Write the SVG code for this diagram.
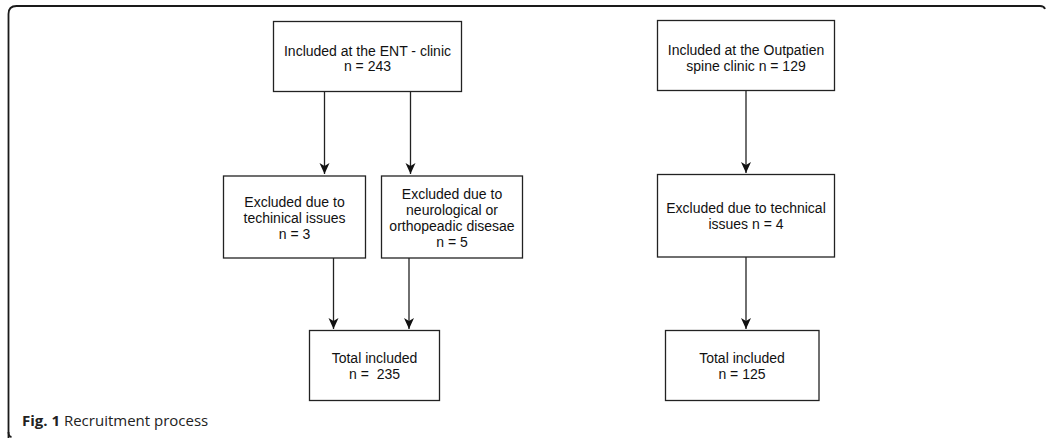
<svg xmlns="http://www.w3.org/2000/svg" width="1046" height="438" viewBox="0 0 1046 438">
<style>
.box{fill:#fff;stroke:#222;stroke-width:1.3}
.t{font-family:"Liberation Sans",Arial,sans-serif;font-size:14px;fill:#111;text-anchor:middle}
.c{stroke:#222;stroke-width:1.3;fill:none}
.frame{stroke:#1a1a1a;stroke-width:1.8;fill:none}
.cap{font-family:"Open Sans",sans-serif;font-size:15px;fill:#222}
</style>
<defs>
<marker id="ah" markerUnits="userSpaceOnUse" markerWidth="12" markerHeight="12" refX="11" refY="5" orient="auto">
<path d="M0,0 L11,5 L0,10 L3,5 Z" fill="#111"/>
</marker>
</defs>
<rect width="1046" height="438" fill="#fff"/>
<path class="frame" d="M8.5,438 L8.5,433 L8.5,14 Q8.5,6 16.5,6 L1040,6 Q1044,6 1045,9"/>
<path class="frame" d="M8.5,432 Q8.5,436.5 11.5,437"/>
<g id="ent">
<rect class="box" x="273.5" y="21.5" width="188" height="70"/>
<text class="t" x="367.5" y="55.5">Included at the ENT - clinic</text>
<text class="t" x="367.5" y="71">n = 243</text>
</g>
<g id="excl-tech-left">
<rect class="box" x="223.5" y="176" width="142" height="82"/>
<text class="t" x="294.5" y="206.5">Excluded due to</text>
<text class="t" x="294.5" y="222.5">techinical issues</text>
<text class="t" x="294.5" y="238.5">n = 3</text>
</g>
<g id="excl-neuro">
<rect class="box" x="381.5" y="176" width="141" height="82"/>
<text class="t" x="452" y="199">Excluded due to</text>
<text class="t" x="452" y="215">neurological or</text>
<text class="t" x="452" y="231">orthopeadic disesae</text>
<text class="t" x="452" y="247">n = 5</text>
</g>
<g id="total-left">
<rect class="box" x="309.5" y="330.5" width="130" height="70"/>
<text class="t" x="374.5" y="363">Total included</text>
<text class="t" x="374.5" y="379" style="white-space:pre">n =  235</text>
</g>
<g id="outpatient">
<rect class="box" x="657.5" y="20.5" width="177" height="70"/>
<text class="t" x="746" y="55">Included at the Outpatien</text>
<text class="t" x="746" y="70.5">spine clinic n = 129</text>
</g>
<g id="excl-tech-right">
<rect class="box" x="657.5" y="174.5" width="177" height="82.5"/>
<text class="t" x="746" y="212.5">Excluded due to technical</text>
<text class="t" x="746" y="228.5">issues n = 4</text>
</g>
<g id="total-right">
<rect class="box" x="665.5" y="330.5" width="153.5" height="70"/>
<text class="t" x="742" y="363">Total included</text>
<text class="t" x="742" y="379">n = 125</text>
</g>
<g id="connectors">
<path class="c" d="M324.5,92 L324.5,174" marker-end="url(#ah)"/>
<path class="c" d="M410.5,92 L410.5,174" marker-end="url(#ah)"/>
<path class="c" d="M333.5,258 L333.5,329" marker-end="url(#ah)"/>
<path class="c" d="M409,258 L409,329" marker-end="url(#ah)"/>
<path class="c" d="M746,91 L746,173" marker-end="url(#ah)"/>
<path class="c" d="M746,257 L746,329" marker-end="url(#ah)"/>
</g>
<text class="cap" x="22" y="426"><tspan font-weight="bold">Fig. 1</tspan> Recruitment process</text>
</svg>
